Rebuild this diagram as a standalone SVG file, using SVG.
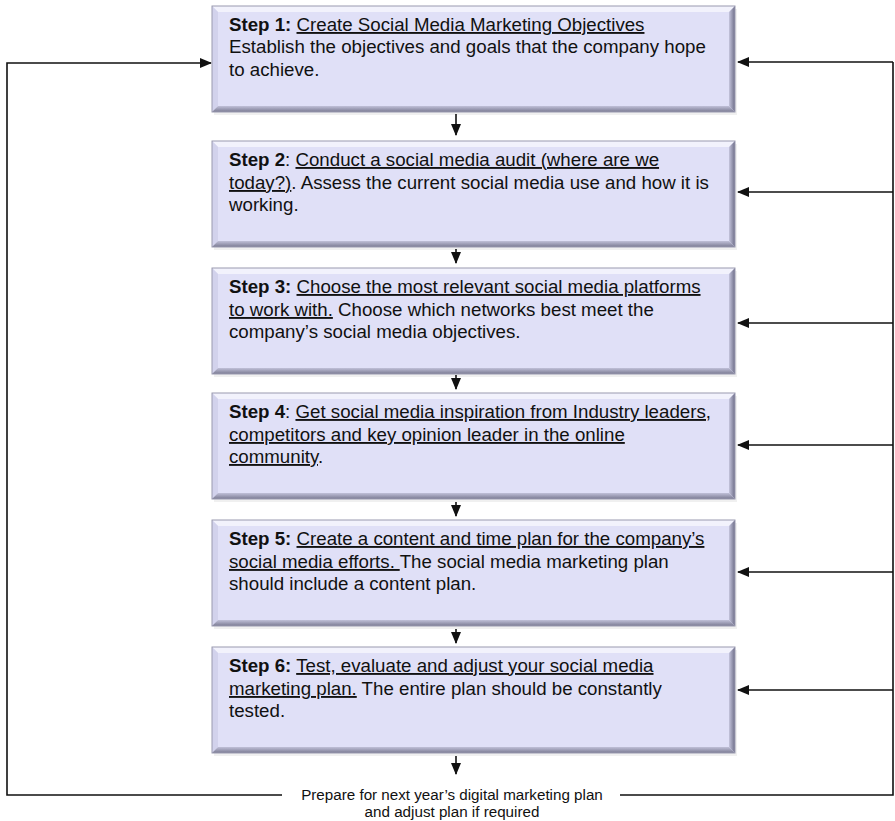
<svg xmlns="http://www.w3.org/2000/svg" xmlns:xlink="http://www.w3.org/1999/xlink" width="895" height="821" viewBox="0 0 895 821">
<style>
.t{font-family:"Liberation Sans",Arial,sans-serif;font-size:18.7px;fill:#111}
.b{font-weight:bold}
.u{text-decoration:underline}
.n{font-family:"Liberation Sans",Arial,sans-serif;font-size:15.2px;fill:#111;text-anchor:middle}
.c{fill:none;stroke:#111;stroke-width:1.6}
</style>
<defs>
<marker id="ah" markerUnits="userSpaceOnUse" markerWidth="12" markerHeight="10" refX="11" refY="5" orient="auto">
<path d="M0,0 L12,5 L0,10 Z" fill="#111"/>
</marker>
<linearGradient id="gr" x1="0" y1="0" x2="1" y2="0">
<stop offset="0" stop-color="#c4c4dc"/><stop offset="1" stop-color="#6e6e88"/>
</linearGradient>
<linearGradient id="gb" x1="0" y1="0" x2="0" y2="1">
<stop offset="0" stop-color="#c0c0d8"/><stop offset="1" stop-color="#7a7a92"/>
</linearGradient>
<g id="box">
<rect x="2" y="3" width="523" height="106" fill="#000" opacity="0.06"/>
<rect x="0" y="0" width="523" height="106" fill="#e0e0f7"/>
<polygon points="0,0 523,0 517,6 6,6" fill="#f2f2fc"/>
<polygon points="0,0 6,6 6,100 0,106" fill="#d2d2ec"/>
<polygon points="523,0 523,106 517,100 517,6" fill="url(#gr)"/>
<polygon points="0,106 523,106 517,100 6,100" fill="url(#gb)"/>
<rect x="0" y="0" width="523" height="106" fill="none" stroke="#9a9ab0" stroke-width="1"/>
</g>
</defs>
<rect width="895" height="821" fill="#fff"/>

<g id="connectors">
<polyline class="c" points="282,795 7,795 7,63 211,63" marker-end="url(#ah)"/>
<polyline class="c" points="620,795 893,795 893,62"/>
<line class="c" x1="893" y1="62" x2="738" y2="62" marker-end="url(#ah)"/>
<line class="c" x1="893" y1="192" x2="738" y2="192" marker-end="url(#ah)"/>
<line class="c" x1="893" y1="323" x2="738" y2="323" marker-end="url(#ah)"/>
<line class="c" x1="893" y1="445" x2="738" y2="445" marker-end="url(#ah)"/>
<line class="c" x1="893" y1="572" x2="738" y2="572" marker-end="url(#ah)"/>
<line class="c" x1="893" y1="690" x2="738" y2="690" marker-end="url(#ah)"/>
<line class="c" x1="456" y1="114" x2="456" y2="135" marker-end="url(#ah)"/>
<line class="c" x1="456" y1="249" x2="456" y2="263" marker-end="url(#ah)"/>
<line class="c" x1="456" y1="375" x2="456" y2="389" marker-end="url(#ah)"/>
<line class="c" x1="456" y1="502" x2="456" y2="516" marker-end="url(#ah)"/>
<line class="c" x1="456" y1="629" x2="456" y2="643" marker-end="url(#ah)"/>
<line class="c" x1="456" y1="756" x2="456" y2="774" marker-end="url(#ah)"/>
</g>

<g id="step1">
<use xlink:href="#box" x="212" y="6"/>
<text class="t" x="229" y="31"><tspan class="b">Step 1:</tspan> <tspan class="u">Create Social Media Marketing Objectives</tspan></text>
<text class="t" x="229" y="53">Establish the objectives and goals that the company hope</text>
<text class="t" x="229" y="76">to achieve.</text>
</g>
<g id="step2">
<use xlink:href="#box" x="212" y="141"/>
<text class="t" x="229" y="166"><tspan class="b">Step 2</tspan>: <tspan class="u">Conduct a social media audit (where are we</tspan></text>
<text class="t" x="229" y="189"><tspan class="u">today?)</tspan>. Assess the current social media use and how it is</text>
<text class="t" x="229" y="211">working.</text>
</g>
<g id="step3">
<use xlink:href="#box" x="212" y="268"/>
<text class="t" x="229" y="293"><tspan class="b">Step 3:</tspan> <tspan class="u">Choose the most relevant social media platforms</tspan></text>
<text class="t" x="229" y="316"><tspan class="u">to work with.</tspan> Choose which networks best meet the</text>
<text class="t" x="229" y="338">company’s social media objectives.</text>
</g>
<g id="step4">
<use xlink:href="#box" x="212" y="393"/>
<text class="t" x="229" y="418"><tspan class="b">Step 4</tspan>: <tspan class="u">Get social media inspiration from Industry leaders,</tspan></text>
<text class="t" x="229" y="441"><tspan class="u">competitors and key opinion leader in the online</tspan></text>
<text class="t" x="229" y="463"><tspan class="u">community</tspan>.</text>
</g>
<g id="step5">
<use xlink:href="#box" x="212" y="520"/>
<text class="t" x="229" y="545"><tspan class="b">Step 5:</tspan> <tspan class="u">Create a content and time plan for the company’s</tspan></text>
<text class="t" x="229" y="568"><tspan class="u">social media efforts. </tspan>The social media marketing plan</text>
<text class="t" x="229" y="590">should include a content plan.</text>
</g>
<g id="step6">
<use xlink:href="#box" x="212" y="647"/>
<text class="t" x="229" y="672"><tspan class="b">Step 6:</tspan> <tspan class="u">Test, evaluate and adjust your social media</tspan></text>
<text class="t" x="229" y="695"><tspan class="u">marketing plan.</tspan> The entire plan should be constantly</text>
<text class="t" x="229" y="717">tested.</text>
</g>
<g id="final">
<text class="n" x="452" y="800">Prepare for next year’s digital marketing plan</text>
<text class="n" x="452" y="817">and adjust plan if required</text>
</g>
</svg>
